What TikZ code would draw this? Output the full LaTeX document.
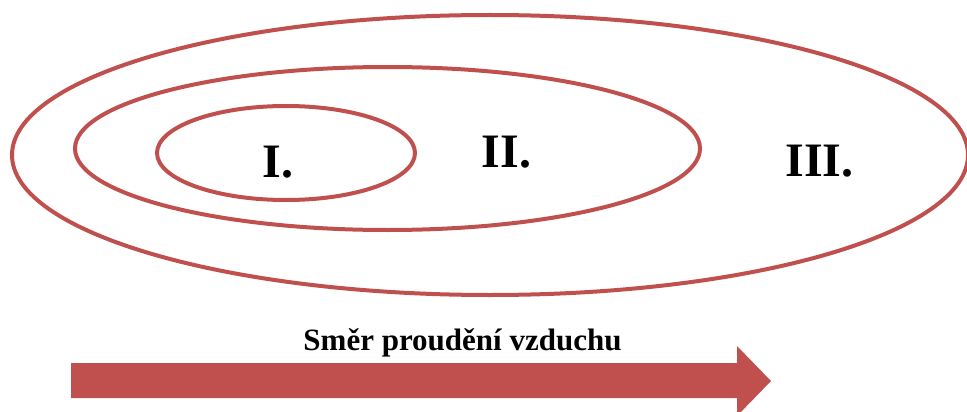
\documentclass[tikz,border=0pt]{standalone}
\usepackage{fontspec}
\setmainfont{Liberation Serif}
\definecolor{zonered}{HTML}{C0504D}
\begin{document}
\begin{tikzpicture}[x=1pt,y=-1pt,
  zone/.style={draw=zonered,line width=4pt},
  zonelabel/.style={anchor=base,inner sep=0pt,font=\fontsize{48}{50}\selectfont\bfseries},
  flowlabel/.style={anchor=base,inner sep=0pt,font=\fontsize{31}{33}\selectfont\bfseries},
  flowarrow/.style={fill=zonered,draw=none}]
\useasboundingbox (0,0) rectangle (967,412);
\clip (0,0) rectangle (967,412);
\draw[zone] (490,155) ellipse [x radius=478pt, y radius=140pt];
\draw[zone] (387.5,148.5) ellipse [x radius=312.5pt, y radius=81.5pt];
\draw[zone] (286,153) ellipse [x radius=129pt, y radius=47pt];
\node[zonelabel] (z1) at (278,177) {I.};
\node[zonelabel] (z2) at (506.5,167) {II.};
\node[zonelabel] (z3) at (819.5,176) {III.};
\node[flowlabel] (flow) at (462.5,350) {Směr proudění vzduchu};
\fill[flowarrow] (71,363) -- (737,363) -- (737,346) -- (771,381) -- (737,416) -- (737,398) -- (71,398) -- cycle;
\end{tikzpicture}
\end{document}
